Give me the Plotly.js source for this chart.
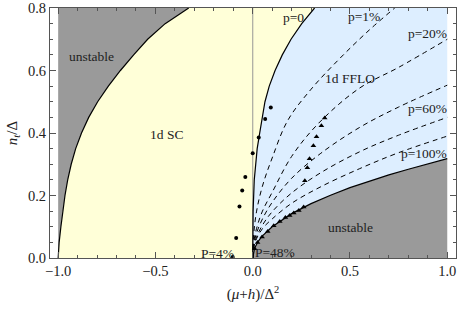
<!DOCTYPE html>
<html><head><meta charset="utf-8">
<script src="https://cdn.plot.ly/plotly-3.0.1.min.js"></script>
<style>html,body{margin:0;padding:0;background:#fff}#chart{width:457px;height:309px}</style>
</head><body><div id="chart"></div>
<script>
// Left stability boundary (unstable | 1d SC)
const leftN = [0, 0.05, 0.1, 0.15, 0.2, 0.25, 0.3, 0.35, 0.4, 0.45, 0.5, 0.55, 0.6, 0.65, 0.7, 0.75, 0.8];
const leftX = [-1.0, -0.995, -0.986, -0.976, -0.965, -0.951, -0.933, -0.910, -0.880, -0.843, -0.797, -0.742, -0.680, -0.612, -0.540, -0.450, -0.329];
// p=0 boundary (1d SC | 1d FFLO)
const p0N = [0, 0.15, 0.25, 0.3, 0.35, 0.4, 0.45, 0.5, 0.55, 0.6, 0.65, 0.7, 0.75, 0.8];
const p0X = [0, 0.002, 0.008, 0.014, 0.023, 0.036, 0.048, 0.063, 0.085, 0.115, 0.152, 0.197, 0.252, 0.318];
// p=100% boundary (1d FFLO | unstable)
const lowX = [0, 0.01, 0.03, 0.05, 0.1, 0.2, 0.3, 0.4, 0.5, 0.6, 0.7, 0.8, 0.9, 1.0];
const lowN = [0, 0.032, 0.055, 0.071, 0.10, 0.142, 0.174, 0.201, 0.225, 0.246, 0.266, 0.284, 0.302, 0.318];
// dashed polarisation contours
const p1X = [0, 0.005, 0.02, 0.05, 0.1, 0.18, 0.3, 0.45, 0.6, 0.73];
const p1N = [0, 0.075, 0.15, 0.23, 0.32, 0.44, 0.54, 0.64, 0.73, 0.80];
const p20X = [0, 0.005, 0.02, 0.05, 0.1, 0.2, 0.34, 0.55, 0.75, 1.0];
const p20N = [0, 0.05, 0.095, 0.15, 0.21, 0.325, 0.432, 0.544, 0.61, 0.70];
const p40X = [0, 0.005, 0.02, 0.05, 0.1, 0.2, 0.35, 0.55, 0.75, 1.0];
const p40N = [0, 0.042, 0.08, 0.125, 0.178, 0.255, 0.335, 0.418, 0.483, 0.553];
const p60X = [0, 0.005, 0.02, 0.05, 0.1, 0.2, 0.35, 0.55, 0.75, 1.0];
const p60N = [0, 0.036, 0.068, 0.105, 0.148, 0.208, 0.273, 0.34, 0.393, 0.45];
const p80X = [0, 0.005, 0.02, 0.05, 0.1, 0.2, 0.35, 0.55, 0.75, 1.0];
const p80N = [0, 0.033, 0.062, 0.094, 0.125, 0.175, 0.228, 0.286, 0.337, 0.39];
// numerical points
const dotX = [0.093, 0.064, 0.031, 0.000, -0.038, -0.054, -0.068, -0.085, -0.103];
const dotN = [0.482, 0.445, 0.386, 0.335, 0.259, 0.216, 0.165, 0.064, 0.003];
const triX = [0.370, 0.353, 0.328, 0.312, 0.292, 0.281, 0.268,
              0.262, 0.237, 0.211, 0.190, 0.168, 0.139, 0.108, 0.077, 0.048, 0.025, 0.01];
const triN = [0.448, 0.423, 0.388, 0.359, 0.318, 0.289, 0.247,
              0.163, 0.152, 0.144, 0.136, 0.130, 0.117, 0.103, 0.085, 0.067, 0.05, 0.03];
// labels
const labelText = ['unstable', '1d SC', 'p=0', 'p=1%', 'p=20%', '1d FFLO', 'p=60%', 'p=100%', 'unstable', 'P=4%', 'P=48%'];
const labelX = [-0.827, -0.444, 0.209, 0.574, 0.901, 0.502, 0.901, 0.883, 0.502, -0.179, 0.117];
const labelN = [0.644, 0.395, 0.771, 0.772, 0.718, 0.575, 0.479, 0.335, 0.097, 0.015, 0.017];

const GRAY = '#9a9a9a', YEL = '#ffffd8', BLUE = '#ddeeff';
const rev = a => a.slice().reverse();
const traces = [];
traces.push({x: [-1, ...rev(leftX)], y: [0.8, ...rev(leftN)], fill: 'toself', fillcolor: GRAY,
  line: {width: 0}, mode: 'lines', hoverinfo: 'skip'});
traces.push({x: [...leftX, ...rev(p0X)], y: [...leftN, ...rev(p0N)], fill: 'toself', fillcolor: YEL,
  line: {width: 0}, mode: 'lines', hoverinfo: 'skip'});
traces.push({x: [...p0X, 1, ...rev(lowX)], y: [...p0N, 0.8, ...rev(lowN)], fill: 'toself', fillcolor: BLUE,
  line: {width: 0}, mode: 'lines', hoverinfo: 'skip'});
traces.push({x: [...lowX, 1, 0], y: [...lowN, 0, 0], fill: 'toself', fillcolor: GRAY,
  line: {width: 0}, mode: 'lines', hoverinfo: 'skip'});
traces.push({x: [0, 0], y: [0, 0.8], mode: 'lines', line: {color: '#a8a8a0', width: 1.2}, hoverinfo: 'skip'});
[[leftX, leftN], [p0X, p0N], [lowX, lowN]].forEach(([xs, ys]) => traces.push({x: xs, y: ys, mode: 'lines',
  line: {color: '#000', width: 1.2}, hoverinfo: 'skip'}));
[[p1X, p1N], [p20X, p20N], [p40X, p40N], [p60X, p60N], [p80X, p80N]].forEach(([xs, ys]) => traces.push({x: xs, y: ys,
  mode: 'lines', line: {color: '#000', width: 1, dash: '5px,4px', shape: 'spline'}, hoverinfo: 'skip'}));
traces.push({x: dotX, y: dotN, mode: 'markers', marker: {color: '#000', size: 4, symbol: 'circle'}});
traces.push({x: triX, y: triN, mode: 'markers', marker: {color: '#000', size: 5, symbol: 'triangle-up'}});

const FONT = 'Liberation Serif, Times New Roman, serif';
const annotations = labelText.map((t, i) => ({x: labelX[i], y: labelN[i], xref: 'x', yref: 'y', text: t,
  showarrow: false, font: {family: FONT, size: 13.5, color: '#222'}}));

const axisCommon = {showline: true, mirror: 'ticks', linecolor: '#555', linewidth: 1, ticks: 'inside',
  ticklen: 6, tickcolor: '#555', showgrid: false, zeroline: false,
  tickfont: {family: FONT, size: 14.5, color: '#222'}};
const layout = {
  width: 457, height: 309, margin: {l: 50, r: 1, t: 8, b: 51},
  paper_bgcolor: '#fff', plot_bgcolor: '#fff', showlegend: false,
  xaxis: Object.assign({}, axisCommon, {range: [-1.042, 1.045], tickvals: [-1, -0.5, 0, 0.5, 1],
    tickformat: '.1f', minor: {dtick: 0.1, tick0: 0, ticks: 'inside', ticklen: 3, tickcolor: '#555'},
    title: {text: '(<i>μ</i>+<i>h</i>)/Δ<sup>2</sup>', font: {family: FONT, size: 15, color: '#222'}, standoff: 10}}),
  yaxis: Object.assign({}, axisCommon, {range: [0, 0.8], tickvals: [0, 0.2, 0.4, 0.6, 0.8], tickformat: '.1f',
    minor: {dtick: 0.05, tick0: 0, ticks: 'inside', ticklen: 3, tickcolor: '#555'},
    title: {text: '<i>n</i><sub><i>t</i></sub>/Δ', font: {family: FONT, size: 15, color: '#222'}, standoff: 6}}),
  annotations: annotations
};
Plotly.newPlot('chart', traces, layout, {staticPlot: true, displayModeBar: false});
</script></body></html>
